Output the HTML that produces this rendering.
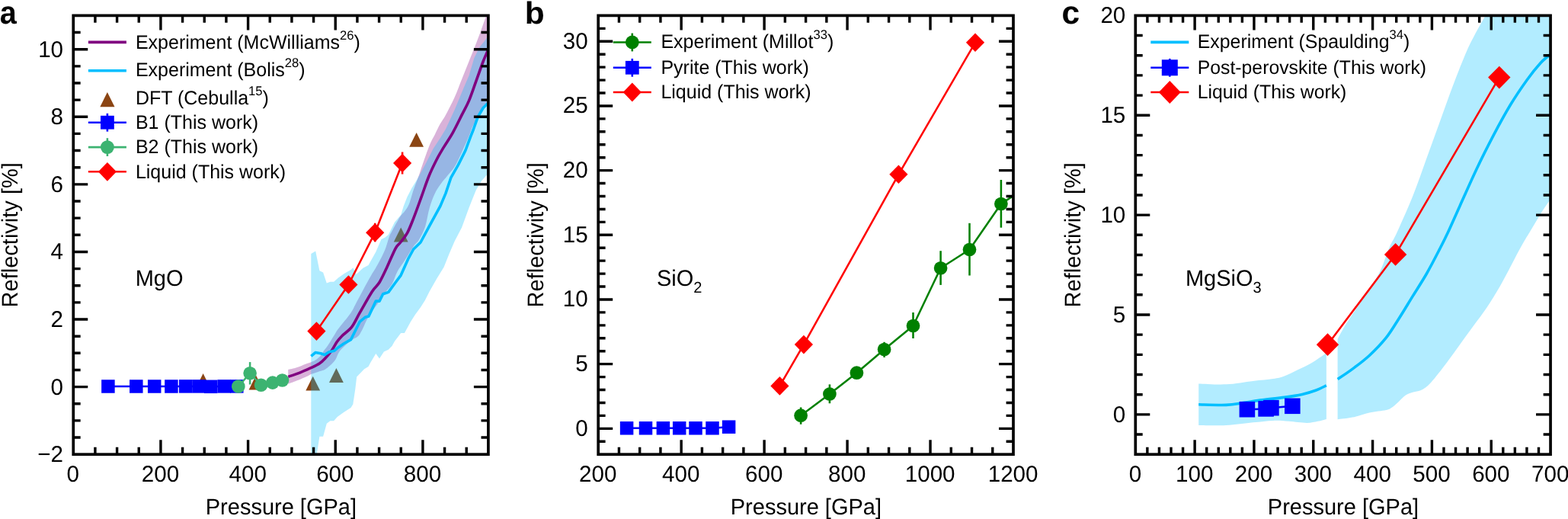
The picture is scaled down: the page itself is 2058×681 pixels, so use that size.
<!DOCTYPE html>
<html lang="en"><head><meta charset="utf-8"><title>Reflectivity vs pressure</title>
<style>
html,body{margin:0;padding:0;background:#fff;}
body{width:2058px;height:681px;overflow:hidden;}
svg{display:block;}
</style></head><body>
<svg width="2058" height="681" viewBox="0 0 2058 681" font-family="'Liberation Sans', sans-serif" font-size="29" fill="#000" text-rendering="geometricPrecision">
<rect width="2058" height="681" fill="#fff"/>
<g>
<clipPath id="clipa"><rect x="96.25" y="20.40" width="544.65" height="575.80"/></clipPath>
<g clip-path="url(#clipa)">
<path d="M378.2 484.9C380.1 484.5 385.4 483.6 389.3 482.3C393.2 481.1 398.4 478.6 401.6 477.4C404.8 476.2 406.2 476.0 408.3 475.2C410.4 474.4 411.8 474.1 413.9 472.6C416.0 471.1 419.1 468.5 421.0 466.4C422.9 464.3 423.7 462.1 425.2 460.0C426.7 457.9 427.6 457.4 429.8 454.1C432.0 450.8 436.2 443.8 438.6 440.0C441.0 436.2 440.4 436.4 444.0 431.5C447.6 426.6 456.6 416.1 460.5 410.4C464.4 404.7 463.6 404.8 467.5 397.5C471.4 390.2 479.2 375.3 483.9 366.9C488.6 358.5 492.2 353.4 495.7 347.0C499.2 340.6 502.6 334.3 505.1 328.2C507.6 322.1 509.3 314.8 510.9 310.6C512.5 306.5 512.1 307.7 514.5 303.3C516.9 298.9 522.3 288.8 525.0 284.5C527.7 280.2 528.9 280.1 530.9 277.4C532.9 274.6 534.8 272.7 536.8 268.0C538.8 263.3 540.6 255.4 542.7 249.2C544.9 242.9 547.8 236.0 549.7 230.5C551.7 225.0 552.0 223.1 554.4 216.4C556.8 209.7 561.1 197.2 563.8 190.5C566.5 183.8 568.4 181.1 570.8 176.4C573.1 171.7 575.5 166.6 577.9 162.3C580.2 158.1 581.8 156.7 584.9 150.9C588.0 145.1 593.2 135.2 596.7 127.4C600.2 119.6 603.0 111.7 606.1 103.9C609.2 96.1 612.4 88.3 615.5 80.5C618.6 72.7 622.2 64.0 624.9 57.0C627.6 50.0 629.8 44.1 631.9 38.2C634.0 32.3 636.3 25.7 637.8 21.7C639.3 17.7 640.3 15.3 640.8 14.0L640.8 135.0C637.8 139.5 626.7 154.7 622.5 162.0C618.3 169.3 618.2 172.5 615.5 178.8C612.8 185.1 609.2 193.2 606.1 199.9C603.0 206.6 599.8 213.6 596.7 218.7C593.6 223.8 590.4 226.6 587.3 230.5C584.2 234.4 580.6 238.3 577.9 242.2C575.1 246.1 573.1 248.8 570.8 253.9C568.4 259.0 565.9 265.3 563.8 272.7C561.6 280.1 560.2 290.9 557.9 298.0C555.5 305.1 552.2 310.8 549.7 315.0C547.2 319.2 545.8 318.9 542.7 323.5C539.6 328.1 534.4 336.8 530.9 342.3C527.4 347.8 524.2 351.3 521.5 356.4C518.8 361.5 517.2 368.1 514.5 372.8C511.8 377.5 508.2 380.2 505.1 384.5C502.0 388.8 499.2 393.5 495.7 398.6C492.2 403.7 487.8 408.4 483.9 415.1C480.0 421.8 475.6 433.6 472.2 438.6C468.8 443.6 466.0 443.3 463.3 445.3C460.6 447.3 459.1 447.9 456.2 450.5C453.2 453.1 448.2 457.6 445.6 461.1C443.0 464.6 442.4 468.6 440.4 471.7C438.3 474.8 435.6 477.4 433.3 479.6C431.0 481.8 428.7 483.6 426.3 484.9C423.9 486.2 422.2 486.2 419.2 487.2C416.2 488.2 410.9 490.0 408.3 491.1C405.7 492.2 406.5 492.3 403.3 493.7C400.1 495.1 393.5 497.9 389.3 499.6C385.1 501.3 380.1 503.1 378.2 503.8Z" fill="#800080" fill-opacity="0.3"/>
<path d="M266.60 490.10L276.00 508.90L257.20 508.90Z" fill="#8B4513"/>
<path d="M336.00 492.60L345.40 511.40L326.60 511.40Z" fill="#8B4513"/>
<path d="M410.70 493.70L420.10 512.50L401.30 512.50Z" fill="#8B4513"/>
<path d="M441.40 483.10L450.80 501.90L432.00 501.90Z" fill="#8B4513"/>
<path d="M526.20 298.60L535.60 317.40L516.80 317.40Z" fill="#8B4513"/>
<path d="M546.60 173.90L556.00 192.70L537.20 192.70Z" fill="#8B4513"/>
<polygon points="408.3,333.0 414.2,329.4 419.4,355.2 424.1,357.5 428.8,371.6 433.4,369.8 438.1,369.8 444.0,364.6 452.2,358.7 460.5,354.0 463.3,351.2 467.6,360.0 476.4,351.7 483.5,348.1 493.3,330.5 500.4,314.1 505.1,311.7 509.8,308.0 518.0,291.5 526.2,282.1 529.7,270.4 534.4,258.6 540.3,246.9 546.2,237.5 550.2,230.5 559.1,214.0 568.5,195.2 577.9,181.1 584.9,169.4 596.7,143.9 608.4,115.7 615.5,99.2 622.5,75.8 629.5,61.7 635.4,54.6 640.8,47.0 640.8,227.5 631.9,237.5 624.9,249.2 615.5,272.7 606.1,298.6 596.7,316.4 589.6,332.9 582.6,350.5 573.2,365.8 563.8,382.2 557.9,393.9 552.0,403.3 545.0,412.7 539.1,422.1 530.9,436.9 526.2,436.9 518.0,447.8 514.5,454.1 509.8,458.8 503.9,461.6 498.0,470.5 493.3,464.0 486.3,475.7 483.5,481.1 478.1,484.2 468.2,494.5 466.3,510.5 463.3,530.4 460.5,535.1 451.1,541.0 442.8,546.9 438.1,552.3 433.4,552.3 428.8,555.8 424.1,572.7 419.4,572.7 415.8,596.0 408.3,620.0" fill="#00BFFF" fill-opacity="0.3"/>
<path d="M378.2 494.3C380.6 493.5 388.0 491.2 392.8 489.3C397.6 487.4 402.5 485.2 406.9 483.2C411.3 481.1 416.0 479.1 419.2 477.0C422.4 474.9 423.6 473.7 426.3 470.8C429.0 467.9 432.9 463.4 435.5 459.7C438.1 456.0 439.9 451.9 442.1 448.8C444.3 445.7 445.4 444.2 448.7 440.9C451.9 437.6 457.7 434.3 461.6 429.2C465.5 424.1 467.7 418.2 472.2 410.4C476.7 402.6 484.3 388.8 488.6 382.2C492.9 375.6 494.9 375.6 498.0 370.5C501.1 365.4 503.9 359.1 507.4 351.7C510.9 344.2 516.2 331.4 519.2 325.8C522.2 320.2 523.0 321.4 525.6 318.0C528.2 314.6 531.8 310.8 534.6 305.6C537.4 300.4 539.5 294.6 542.6 286.8C545.7 279.0 549.6 268.0 553.0 258.6C556.4 249.2 559.8 238.7 563.2 230.5C566.6 222.3 570.0 215.6 573.2 209.3C576.4 203.0 579.1 198.8 582.6 192.9C586.1 187.0 590.4 181.1 594.3 174.1C598.2 167.1 602.6 157.9 606.1 150.9C609.6 143.9 612.4 139.5 615.5 132.1C618.6 124.7 621.8 114.9 624.9 106.3C628.0 97.7 631.6 87.4 634.2 80.5C636.9 73.6 639.7 67.6 640.8 65.0" fill="none" stroke="#800080" stroke-width="3.6"/>
<polyline points="408.3,467.3 413.9,462.6 421.0,463.8 426.3,465.6 431.5,462.0 438.6,460.3 443.9,455.9 451.0,451.0 460.5,445.6 465.2,436.2 472.2,422.1 479.2,416.3 483.9,415.1 493.3,395.1 498.0,395.1 502.7,385.7 509.8,383.4 519.2,370.5 526.2,361.1 535.6,339.9 542.7,327.0 552.0,318.0 563.8,296.2 577.9,270.4 584.9,253.9 592.0,232.8 601.4,216.4 610.8,197.6 617.8,178.8 621.3,170.0 627.2,153.3 634.2,141.5 640.8,135.0" fill="none" stroke="#00BFFF" stroke-width="3.6" stroke-linejoin="round"/>
<polyline points="141.9,507.0 178.8,507.0 202.7,507.0 224.9,507.0 243.7,506.9 261.0,506.9 276.7,507.3 294.2,506.9 310.8,506.9" fill="none" stroke="#0000FF" stroke-width="2.55" stroke-linejoin="round"/>
<rect x="133.15" y="498.25" width="17.50" height="17.50" fill="#0000FF"/>
<rect x="170.05" y="498.25" width="17.50" height="17.50" fill="#0000FF"/>
<rect x="193.95" y="498.25" width="17.50" height="17.50" fill="#0000FF"/>
<rect x="216.15" y="498.25" width="17.50" height="17.50" fill="#0000FF"/>
<rect x="234.95" y="498.15" width="17.50" height="17.50" fill="#0000FF"/>
<rect x="252.25" y="498.15" width="17.50" height="17.50" fill="#0000FF"/>
<rect x="267.95" y="498.55" width="17.50" height="17.50" fill="#0000FF"/>
<rect x="285.45" y="498.15" width="17.50" height="17.50" fill="#0000FF"/>
<rect x="302.05" y="498.15" width="17.50" height="17.50" fill="#0000FF"/>
<polyline points="312.8,507.0 328.1,489.8 342.6,505.2 357.8,502.1 370.5,499.0" fill="none" stroke="#3CB371" stroke-width="2.55" stroke-linejoin="round"/>
<circle cx="312.80" cy="507.00" r="8.80" fill="#3CB371"/>
<path d="M328.10 475.10V504.50" stroke="#3CB371" stroke-width="2.55" fill="none"/>
<circle cx="328.10" cy="489.80" r="8.80" fill="#3CB371"/>
<circle cx="342.60" cy="505.20" r="8.80" fill="#3CB371"/>
<circle cx="357.80" cy="502.10" r="8.80" fill="#3CB371"/>
<circle cx="370.50" cy="499.00" r="8.80" fill="#3CB371"/>
<polyline points="415.4,434.6 457.4,373.5 492.2,305.2 528.1,214.0" fill="none" stroke="#FF0000" stroke-width="2.55" stroke-linejoin="round"/>
<path d="M415.40 422.30L427.50 434.60L415.40 446.90L403.30 434.60Z" fill="#FF0000"/>
<path d="M457.40 361.20L469.50 373.50L457.40 385.80L445.30 373.50Z" fill="#FF0000"/>
<path d="M492.20 292.70V317.30" stroke="#FF0000" stroke-width="2.55" fill="none"/>
<path d="M492.20 292.90L504.30 305.20L492.20 317.50L480.10 305.20Z" fill="#FF0000"/>
<path d="M528.10 199.50V228.60" stroke="#FF0000" stroke-width="2.55" fill="none"/>
<path d="M528.10 201.70L540.20 214.00L528.10 226.30L516.00 214.00Z" fill="#FF0000"/>
</g>
<path d="M124.92 596.20v-9.40M124.92 20.40v9.40M153.58 596.20v-9.40M153.58 20.40v9.40M182.25 596.20v-9.40M182.25 20.40v9.40M210.91 596.20v-19.00M210.91 20.40v19.00M239.58 596.20v-9.40M239.58 20.40v9.40M268.24 596.20v-9.40M268.24 20.40v9.40M296.91 596.20v-9.40M296.91 20.40v9.40M325.58 596.20v-19.00M325.58 20.40v19.00M354.24 596.20v-9.40M354.24 20.40v9.40M382.91 596.20v-9.40M382.91 20.40v9.40M411.57 596.20v-9.40M411.57 20.40v9.40M440.24 596.20v-19.00M440.24 20.40v19.00M468.91 596.20v-9.40M468.91 20.40v9.40M497.57 596.20v-9.40M497.57 20.40v9.40M526.24 596.20v-9.40M526.24 20.40v9.40M554.90 596.20v-19.00M554.90 20.40v19.00M583.57 596.20v-9.40M583.57 20.40v9.40M612.23 596.20v-9.40M612.23 20.40v9.40M96.25 574.05h9.40M640.90 574.05h-9.40M96.25 551.91h9.40M640.90 551.91h-9.40M96.25 529.76h9.40M640.90 529.76h-9.40M96.25 507.62h19.00M640.90 507.62h-19.00M96.25 485.47h9.40M640.90 485.47h-9.40M96.25 463.32h9.40M640.90 463.32h-9.40M96.25 441.18h9.40M640.90 441.18h-9.40M96.25 419.03h19.00M640.90 419.03h-19.00M96.25 396.88h9.40M640.90 396.88h-9.40M96.25 374.74h9.40M640.90 374.74h-9.40M96.25 352.59h9.40M640.90 352.59h-9.40M96.25 330.45h19.00M640.90 330.45h-19.00M96.25 308.30h9.40M640.90 308.30h-9.40M96.25 286.15h9.40M640.90 286.15h-9.40M96.25 264.01h9.40M640.90 264.01h-9.40M96.25 241.86h19.00M640.90 241.86h-19.00M96.25 219.72h9.40M640.90 219.72h-9.40M96.25 197.57h9.40M640.90 197.57h-9.40M96.25 175.42h9.40M640.90 175.42h-9.40M96.25 153.28h19.00M640.90 153.28h-19.00M96.25 131.13h9.40M640.90 131.13h-9.40M96.25 108.98h9.40M640.90 108.98h-9.40M96.25 86.84h9.40M640.90 86.84h-9.40M96.25 64.69h19.00M640.90 64.69h-19.00M96.25 42.55h9.40M640.90 42.55h-9.40" stroke="#000" stroke-width="3.4" fill="none"/>
<rect x="96.25" y="20.40" width="544.65" height="575.80" fill="none" stroke="#000" stroke-width="3.7"/>
<text transform="translate(95.85 631.7) scale(1 1.015)" font-size="29.6" text-anchor="middle">0</text>
<text transform="translate(210.51 631.7) scale(1 1.015)" font-size="29.6" text-anchor="middle">200</text>
<text transform="translate(325.18 631.7) scale(1 1.015)" font-size="29.6" text-anchor="middle">400</text>
<text transform="translate(439.84 631.7) scale(1 1.015)" font-size="29.6" text-anchor="middle">600</text>
<text transform="translate(554.50 631.7) scale(1 1.015)" font-size="29.6" text-anchor="middle">800</text>
<text transform="translate(83.05 606.20) scale(1 1.015)" font-size="29.6" text-anchor="end">−2</text>
<text transform="translate(83.05 517.62) scale(1 1.015)" font-size="29.6" text-anchor="end">0</text>
<text transform="translate(83.05 429.03) scale(1 1.015)" font-size="29.6" text-anchor="end">2</text>
<text transform="translate(83.05 340.45) scale(1 1.015)" font-size="29.6" text-anchor="end">4</text>
<text transform="translate(83.05 251.86) scale(1 1.015)" font-size="29.6" text-anchor="end">6</text>
<text transform="translate(83.05 163.28) scale(1 1.015)" font-size="29.6" text-anchor="end">8</text>
<text transform="translate(83.05 74.69) scale(1 1.015)" font-size="29.6" text-anchor="end">10</text>
<text transform="translate(368.88 674.9) scale(1 1.02)" text-anchor="middle">Pressure [GPa]</text>
<text transform="translate(23.45 308.30) rotate(-90) scale(1 1.02)" text-anchor="middle">Reflectivity [%]</text>
<text transform="translate(-0.3 30.8) scale(0.93 1.0)" font-weight="bold" font-size="42.5">a</text>
<path d="M115.90 55.40H165.90" stroke="#800080" stroke-width="3.6"/>
<text transform="translate(177.90 63.90) scale(1 1.02)" font-size="25">Experiment (McWilliams<tspan dy="-11.8" font-size="16.6">26</tspan><tspan dy="11.8">)</tspan></text>
<path d="M115.90 92.70H165.90" stroke="#00BFFF" stroke-width="3.6"/>
<text transform="translate(177.90 99.80) scale(1 1.02)" font-size="25">Experiment (Bolis<tspan dy="-11.8" font-size="16.6">28</tspan><tspan dy="11.8">)</tspan></text>
<path d="M140.90 121.10L150.50 140.30L131.30 140.30Z" fill="#8B4513"/>
<text transform="translate(177.90 136.60) scale(1 1.02)" font-size="25">DFT (Cebulla<tspan dy="-11.8" font-size="16.6">15</tspan><tspan dy="11.8">)</tspan></text>
<path d="M115.90 160.70H165.90" stroke="#0000FF" stroke-width="2.55"/>
<path d="M140.90 148.80V172.60" stroke="#0000FF" stroke-width="2.55" fill="none"/>
<rect x="132.00" y="151.80" width="17.80" height="17.80" fill="#0000FF"/>
<text transform="translate(177.90 168.80) scale(1 1.02)" font-size="25">B1 (This work)</text>
<path d="M115.90 193.10H165.90" stroke="#3CB371" stroke-width="2.55"/>
<path d="M140.90 181.20V205.00" stroke="#3CB371" stroke-width="2.55" fill="none"/>
<circle cx="140.90" cy="193.10" r="8.90" fill="#3CB371"/>
<text transform="translate(177.90 201.10) scale(1 1.02)" font-size="25">B2 (This work)</text>
<path d="M115.90 225.30H165.90" stroke="#FF0000" stroke-width="2.55"/>
<path d="M140.90 212.90L152.90 225.30L140.90 237.70L128.90 225.30Z" fill="#FF0000"/>
<text transform="translate(177.90 233.80) scale(1 1.02)" font-size="25">Liquid (This work)</text>
<text transform="translate(177.7 375) scale(1 1.02)">MgO</text>
</g>
<g>
<clipPath id="clipb"><rect x="785.20" y="20.40" width="544.80" height="575.80"/></clipPath>
<g clip-path="url(#clipb)">
<polyline points="822.6,561.8 847.5,561.8 870.4,561.8 891.7,561.8 913.0,561.8 935.0,561.8 956.6,560.2" fill="none" stroke="#0000FF" stroke-width="2.55" stroke-linejoin="round"/>
<rect x="813.85" y="553.05" width="17.50" height="17.50" fill="#0000FF"/>
<rect x="838.75" y="553.05" width="17.50" height="17.50" fill="#0000FF"/>
<rect x="861.65" y="553.05" width="17.50" height="17.50" fill="#0000FF"/>
<rect x="882.95" y="553.05" width="17.50" height="17.50" fill="#0000FF"/>
<rect x="904.25" y="553.05" width="17.50" height="17.50" fill="#0000FF"/>
<rect x="926.25" y="553.05" width="17.50" height="17.50" fill="#0000FF"/>
<rect x="947.85" y="551.45" width="17.50" height="17.50" fill="#0000FF"/>
<polyline points="1051.1,545.2 1088.9,517.0 1124.4,489.2 1160.6,458.5 1198.5,427.5 1234.6,351.8 1272.5,327.5 1313.9,267.5 1345.0,247.0" fill="none" stroke="#008000" stroke-width="2.55" stroke-linejoin="round"/>
<path d="M1051.10 534.50V556.80" stroke="#008000" stroke-width="2.55" fill="none"/>
<circle cx="1051.10" cy="545.20" r="8.85" fill="#008000"/>
<path d="M1088.90 504.40V529.30" stroke="#008000" stroke-width="2.55" fill="none"/>
<circle cx="1088.90" cy="517.00" r="8.85" fill="#008000"/>
<circle cx="1124.40" cy="489.20" r="8.85" fill="#008000"/>
<path d="M1160.60 448.80V468.90" stroke="#008000" stroke-width="2.55" fill="none"/>
<circle cx="1160.60" cy="458.50" r="8.85" fill="#008000"/>
<path d="M1198.50 410.00V444.00" stroke="#008000" stroke-width="2.55" fill="none"/>
<circle cx="1198.50" cy="427.50" r="8.85" fill="#008000"/>
<path d="M1234.60 329.20V373.90" stroke="#008000" stroke-width="2.55" fill="none"/>
<circle cx="1234.60" cy="351.80" r="8.85" fill="#008000"/>
<path d="M1272.50 292.80V361.50" stroke="#008000" stroke-width="2.55" fill="none"/>
<circle cx="1272.50" cy="327.50" r="8.85" fill="#008000"/>
<path d="M1313.90 236.10V298.70" stroke="#008000" stroke-width="2.55" fill="none"/>
<circle cx="1313.90" cy="267.50" r="8.85" fill="#008000"/>
<polyline points="1023.4,506.4 1054.9,452.1 1179.4,228.8 1280.0,55.8" fill="none" stroke="#FF0000" stroke-width="2.55" stroke-linejoin="round"/>
<path d="M1023.40 494.10L1035.50 506.40L1023.40 518.70L1011.30 506.40Z" fill="#FF0000"/>
<path d="M1054.90 439.80L1067.00 452.10L1054.90 464.40L1042.80 452.10Z" fill="#FF0000"/>
<path d="M1179.40 216.50L1191.50 228.80L1179.40 241.10L1167.30 228.80Z" fill="#FF0000"/>
<path d="M1280.00 43.50L1292.10 55.80L1280.00 68.10L1267.90 55.80Z" fill="#FF0000"/>
</g>
<path d="M812.44 596.20v-9.40M812.44 20.40v9.40M839.68 596.20v-9.40M839.68 20.40v9.40M866.92 596.20v-9.40M866.92 20.40v9.40M894.16 596.20v-19.00M894.16 20.40v19.00M921.40 596.20v-9.40M921.40 20.40v9.40M948.64 596.20v-9.40M948.64 20.40v9.40M975.88 596.20v-9.40M975.88 20.40v9.40M1003.12 596.20v-19.00M1003.12 20.40v19.00M1030.36 596.20v-9.40M1030.36 20.40v9.40M1057.60 596.20v-9.40M1057.60 20.40v9.40M1084.84 596.20v-9.40M1084.84 20.40v9.40M1112.08 596.20v-19.00M1112.08 20.40v19.00M1139.32 596.20v-9.40M1139.32 20.40v9.40M1166.56 596.20v-9.40M1166.56 20.40v9.40M1193.80 596.20v-9.40M1193.80 20.40v9.40M1221.04 596.20v-19.00M1221.04 20.40v19.00M1248.28 596.20v-9.40M1248.28 20.40v9.40M1275.52 596.20v-9.40M1275.52 20.40v9.40M1302.76 596.20v-9.40M1302.76 20.40v9.40M785.20 579.26h9.40M1330.00 579.26h-9.40M785.20 562.33h19.00M1330.00 562.33h-19.00M785.20 545.39h9.40M1330.00 545.39h-9.40M785.20 528.46h9.40M1330.00 528.46h-9.40M785.20 511.52h9.40M1330.00 511.52h-9.40M785.20 494.59h9.40M1330.00 494.59h-9.40M785.20 477.65h19.00M1330.00 477.65h-19.00M785.20 460.72h9.40M1330.00 460.72h-9.40M785.20 443.78h9.40M1330.00 443.78h-9.40M785.20 426.85h9.40M1330.00 426.85h-9.40M785.20 409.91h9.40M1330.00 409.91h-9.40M785.20 392.98h19.00M1330.00 392.98h-19.00M785.20 376.04h9.40M1330.00 376.04h-9.40M785.20 359.11h9.40M1330.00 359.11h-9.40M785.20 342.17h9.40M1330.00 342.17h-9.40M785.20 325.24h9.40M1330.00 325.24h-9.40M785.20 308.30h19.00M1330.00 308.30h-19.00M785.20 291.36h9.40M1330.00 291.36h-9.40M785.20 274.43h9.40M1330.00 274.43h-9.40M785.20 257.49h9.40M1330.00 257.49h-9.40M785.20 240.56h9.40M1330.00 240.56h-9.40M785.20 223.62h19.00M1330.00 223.62h-19.00M785.20 206.69h9.40M1330.00 206.69h-9.40M785.20 189.75h9.40M1330.00 189.75h-9.40M785.20 172.82h9.40M1330.00 172.82h-9.40M785.20 155.88h9.40M1330.00 155.88h-9.40M785.20 138.95h19.00M1330.00 138.95h-19.00M785.20 122.01h9.40M1330.00 122.01h-9.40M785.20 105.08h9.40M1330.00 105.08h-9.40M785.20 88.14h9.40M1330.00 88.14h-9.40M785.20 71.21h9.40M1330.00 71.21h-9.40M785.20 54.27h19.00M1330.00 54.27h-19.00M785.20 37.34h9.40M1330.00 37.34h-9.40" stroke="#000" stroke-width="3.4" fill="none"/>
<rect x="785.20" y="20.40" width="544.80" height="575.80" fill="none" stroke="#000" stroke-width="3.7"/>
<text transform="translate(784.80 631.7) scale(1 1.015)" font-size="29.6" text-anchor="middle">200</text>
<text transform="translate(893.76 631.7) scale(1 1.015)" font-size="29.6" text-anchor="middle">400</text>
<text transform="translate(1002.72 631.7) scale(1 1.015)" font-size="29.6" text-anchor="middle">600</text>
<text transform="translate(1111.68 631.7) scale(1 1.015)" font-size="29.6" text-anchor="middle">800</text>
<text transform="translate(1220.64 631.7) scale(1 1.015)" font-size="29.6" text-anchor="middle">1000</text>
<text transform="translate(1329.60 631.7) scale(1 1.015)" font-size="29.6" text-anchor="middle">1200</text>
<text transform="translate(771.70 571.73) scale(1 1.015)" font-size="29.6" text-anchor="end">0</text>
<text transform="translate(771.70 487.05) scale(1 1.015)" font-size="29.6" text-anchor="end">5</text>
<text transform="translate(771.70 402.38) scale(1 1.015)" font-size="29.6" text-anchor="end">10</text>
<text transform="translate(771.70 317.70) scale(1 1.015)" font-size="29.6" text-anchor="end">15</text>
<text transform="translate(771.70 233.02) scale(1 1.015)" font-size="29.6" text-anchor="end">20</text>
<text transform="translate(771.70 148.35) scale(1 1.015)" font-size="29.6" text-anchor="end">25</text>
<text transform="translate(771.70 63.67) scale(1 1.015)" font-size="29.6" text-anchor="end">30</text>
<text transform="translate(1057.90 674.9) scale(1 1.02)" text-anchor="middle">Pressure [GPa]</text>
<text transform="translate(713.00 308.30) rotate(-90) scale(1 1.02)" text-anchor="middle">Reflectivity [%]</text>
<text transform="translate(688.7 30.8) scale(1.0 0.96)" font-weight="bold" font-size="42.5">b</text>
<path d="M804.80 55.50H854.80" stroke="#008000" stroke-width="2.55"/>
<path d="M829.80 43.60V67.40" stroke="#008000" stroke-width="2.55" fill="none"/>
<circle cx="829.80" cy="55.50" r="8.90" fill="#008000"/>
<text transform="translate(867.40 63.00) scale(1 1.02)" font-size="25">Experiment (Millot<tspan dy="-11.8" font-size="16.6">33</tspan><tspan dy="11.8">)</tspan></text>
<path d="M804.80 88.80H854.80" stroke="#0000FF" stroke-width="2.55"/>
<path d="M829.80 76.90V100.70" stroke="#0000FF" stroke-width="2.55" fill="none"/>
<rect x="820.90" y="79.90" width="17.80" height="17.80" fill="#0000FF"/>
<text transform="translate(867.40 97.40) scale(1 1.02)" font-size="25">Pyrite (This work)</text>
<path d="M804.80 121.00H854.80" stroke="#FF0000" stroke-width="2.55"/>
<path d="M829.80 108.60L841.80 121.00L829.80 133.40L817.80 121.00Z" fill="#FF0000"/>
<text transform="translate(867.40 129.00) scale(1 1.02)" font-size="25">Liquid (This work)</text>
<text transform="translate(862 375) scale(1 1.02)">SiO<tspan dy="8.4" font-size="20">2</tspan></text>
</g>
<g>
<clipPath id="clipc"><rect x="1490.30" y="20.40" width="544.75" height="575.80"/></clipPath>
<g clip-path="url(#clipc)">
<path d="M1573.2 503.4C1579.2 503.5 1597.4 504.9 1609.3 504.3C1621.2 503.7 1634.3 501.1 1644.6 499.9C1654.9 498.7 1664.2 498.1 1671.0 497.0C1677.8 495.9 1680.3 495.4 1685.7 493.4C1691.1 491.4 1697.4 488.0 1703.3 485.2C1709.2 482.4 1714.7 480.1 1721.0 476.4C1727.3 472.7 1737.6 465.4 1740.9 463.2L1740.9 549.9C1739.1 550.4 1734.1 552.0 1729.8 552.8C1725.5 553.6 1721.5 554.9 1715.1 554.9C1708.7 554.9 1698.9 553.3 1691.6 552.8C1684.2 552.3 1678.8 551.6 1671.0 551.9C1663.2 552.1 1654.9 553.3 1644.6 554.3C1634.3 555.3 1621.2 557.5 1609.3 558.1C1597.4 558.7 1579.2 558.1 1573.2 558.1Z" fill="#00BFFF" fill-opacity="0.3"/>
<path d="M1755.6 445.0C1757.4 441.8 1761.7 433.2 1766.4 425.6C1771.2 418.0 1778.2 407.9 1784.1 399.1C1790.0 390.3 1796.9 380.4 1801.7 372.7C1806.5 365.0 1809.0 361.0 1812.7 352.9C1816.4 344.8 1820.2 332.2 1823.7 324.2C1827.2 316.2 1828.4 316.2 1833.5 305.0C1838.6 293.8 1848.0 272.8 1854.5 256.7C1861.0 240.6 1866.3 224.3 1872.2 208.2C1878.1 192.0 1883.9 176.0 1889.8 159.8C1895.7 143.7 1901.5 126.7 1907.4 111.3C1913.3 95.9 1919.9 79.0 1925.0 67.3C1930.1 55.5 1934.2 48.5 1938.2 40.8C1942.2 33.1 1946.5 26.1 1949.3 21.0C1952.1 15.9 1940.7 11.8 1955.0 10.0C1969.3 8.2 2021.8 10.0 2035.2 10.0L2035.2 261.1C2033.0 264.4 2026.5 273.6 2021.9 280.9C2017.3 288.2 2011.2 298.9 2007.5 305.0C2003.8 311.1 2003.4 311.5 1999.9 317.6C1996.4 323.8 1991.8 332.3 1986.7 341.9C1981.6 351.4 1975.0 364.6 1969.1 374.9C1963.2 385.2 1957.4 394.7 1951.5 403.5C1945.6 412.3 1939.7 419.7 1933.8 427.8C1927.9 435.9 1922.1 443.9 1916.2 452.0C1910.3 460.1 1904.0 469.0 1898.6 476.2C1893.2 483.4 1887.7 490.4 1883.6 495.4C1879.5 500.3 1877.3 503.1 1874.1 505.9C1870.9 508.7 1867.7 510.8 1864.5 512.2C1861.3 513.6 1858.2 513.4 1855.0 514.4C1851.8 515.4 1848.6 516.2 1845.4 518.3C1842.2 520.4 1839.1 524.1 1835.9 526.9C1832.7 529.7 1829.2 533.1 1826.4 534.9C1823.6 536.7 1824.2 536.8 1819.3 537.9C1814.4 539.0 1804.6 539.8 1797.3 541.4C1790.0 543.0 1782.2 546.1 1775.2 547.6C1768.2 549.1 1758.9 549.8 1755.6 550.3Z" fill="#00BFFF" fill-opacity="0.3"/>
<path d="M1573.2 530.8C1579.2 530.9 1599.4 531.8 1609.3 531.4C1619.2 531.0 1625.0 529.5 1632.8 528.4C1640.6 527.3 1647.5 526.1 1656.3 524.9C1665.1 523.7 1676.9 522.6 1685.7 521.4C1694.5 520.2 1702.4 519.0 1709.2 517.5C1716.0 516.0 1721.5 514.2 1726.8 512.3C1732.1 510.3 1738.6 506.9 1740.9 505.8" fill="none" stroke="#00BFFF" stroke-width="3.6"/>
<path d="M1755.6 497.5C1758.9 495.3 1768.2 489.3 1775.2 484.1C1782.2 478.9 1790.0 473.3 1797.3 466.5C1804.6 459.7 1812.7 451.5 1819.3 443.2C1825.9 434.9 1831.0 425.9 1836.9 416.7C1842.8 407.5 1848.6 397.6 1854.5 388.1C1860.4 378.6 1866.3 369.8 1872.2 359.5C1878.1 349.2 1885.1 335.5 1889.8 326.4C1894.5 317.3 1896.0 314.4 1900.4 305.0C1904.8 295.6 1909.9 283.8 1916.2 269.9C1922.5 256.0 1930.9 236.9 1938.2 221.5C1945.5 206.1 1953.0 191.3 1960.3 177.4C1967.6 163.5 1975.0 149.9 1982.3 137.8C1989.6 125.7 1997.7 113.9 2004.3 104.7C2010.9 95.5 2016.8 88.3 2021.9 82.7C2027.1 77.1 2033.0 73.0 2035.2 71.0" fill="none" stroke="#00BFFF" stroke-width="3.6"/>
<polyline points="1636.9,537.2 1661.6,536.4 1668.4,535.2 1696.3,532.8" fill="none" stroke="#0000FF" stroke-width="2.55" stroke-linejoin="round"/>
<rect x="1626.60" y="526.90" width="20.60" height="20.60" fill="#0000FF"/>
<rect x="1651.30" y="526.10" width="20.60" height="20.60" fill="#0000FF"/>
<rect x="1658.10" y="524.90" width="20.60" height="20.60" fill="#0000FF"/>
<rect x="1686.00" y="522.50" width="20.60" height="20.60" fill="#0000FF"/>
<polyline points="1742.5,452.2 1831.6,333.9 1967.8,101.6" fill="none" stroke="#FF0000" stroke-width="2.55" stroke-linejoin="round"/>
<path d="M1742.50 437.30L1757.20 452.20L1742.50 467.10L1727.80 452.20Z" fill="#FF0000"/>
<path d="M1831.60 319.00L1846.30 333.90L1831.60 348.80L1816.90 333.90Z" fill="#FF0000"/>
<path d="M1967.80 86.70L1982.50 101.60L1967.80 116.50L1953.10 101.60Z" fill="#FF0000"/>
</g>
<path d="M1505.86 596.20v-9.40M1505.86 20.40v9.40M1521.43 596.20v-9.40M1521.43 20.40v9.40M1536.99 596.20v-9.40M1536.99 20.40v9.40M1552.56 596.20v-9.40M1552.56 20.40v9.40M1568.12 596.20v-19.00M1568.12 20.40v19.00M1583.69 596.20v-9.40M1583.69 20.40v9.40M1599.25 596.20v-9.40M1599.25 20.40v9.40M1614.81 596.20v-9.40M1614.81 20.40v9.40M1630.38 596.20v-9.40M1630.38 20.40v9.40M1645.94 596.20v-19.00M1645.94 20.40v19.00M1661.51 596.20v-9.40M1661.51 20.40v9.40M1677.07 596.20v-9.40M1677.07 20.40v9.40M1692.64 596.20v-9.40M1692.64 20.40v9.40M1708.20 596.20v-9.40M1708.20 20.40v9.40M1723.76 596.20v-19.00M1723.76 20.40v19.00M1739.33 596.20v-9.40M1739.33 20.40v9.40M1754.89 596.20v-9.40M1754.89 20.40v9.40M1770.46 596.20v-9.40M1770.46 20.40v9.40M1786.02 596.20v-9.40M1786.02 20.40v9.40M1801.59 596.20v-19.00M1801.59 20.40v19.00M1817.15 596.20v-9.40M1817.15 20.40v9.40M1832.71 596.20v-9.40M1832.71 20.40v9.40M1848.28 596.20v-9.40M1848.28 20.40v9.40M1863.84 596.20v-9.40M1863.84 20.40v9.40M1879.41 596.20v-19.00M1879.41 20.40v19.00M1894.97 596.20v-9.40M1894.97 20.40v9.40M1910.54 596.20v-9.40M1910.54 20.40v9.40M1926.10 596.20v-9.40M1926.10 20.40v9.40M1941.66 596.20v-9.40M1941.66 20.40v9.40M1957.23 596.20v-19.00M1957.23 20.40v19.00M1972.79 596.20v-9.40M1972.79 20.40v9.40M1988.36 596.20v-9.40M1988.36 20.40v9.40M2003.92 596.20v-9.40M2003.92 20.40v9.40M2019.49 596.20v-9.40M2019.49 20.40v9.40M1490.30 570.03h9.40M2035.05 570.03h-9.40M1490.30 543.85h19.00M2035.05 543.85h-19.00M1490.30 517.68h9.40M2035.05 517.68h-9.40M1490.30 491.51h9.40M2035.05 491.51h-9.40M1490.30 465.34h9.40M2035.05 465.34h-9.40M1490.30 439.16h9.40M2035.05 439.16h-9.40M1490.30 412.99h19.00M2035.05 412.99h-19.00M1490.30 386.82h9.40M2035.05 386.82h-9.40M1490.30 360.65h9.40M2035.05 360.65h-9.40M1490.30 334.47h9.40M2035.05 334.47h-9.40M1490.30 308.30h9.40M2035.05 308.30h-9.40M1490.30 282.13h19.00M2035.05 282.13h-19.00M1490.30 255.95h9.40M2035.05 255.95h-9.40M1490.30 229.78h9.40M2035.05 229.78h-9.40M1490.30 203.61h9.40M2035.05 203.61h-9.40M1490.30 177.44h9.40M2035.05 177.44h-9.40M1490.30 151.26h19.00M2035.05 151.26h-19.00M1490.30 125.09h9.40M2035.05 125.09h-9.40M1490.30 98.92h9.40M2035.05 98.92h-9.40M1490.30 72.75h9.40M2035.05 72.75h-9.40M1490.30 46.57h9.40M2035.05 46.57h-9.40" stroke="#000" stroke-width="3.4" fill="none"/>
<rect x="1490.30" y="20.40" width="544.75" height="575.80" fill="none" stroke="#000" stroke-width="3.7"/>
<text transform="translate(1489.90 631.7) scale(1 1.015)" font-size="29.6" text-anchor="middle">0</text>
<text transform="translate(1567.72 631.7) scale(1 1.015)" font-size="29.6" text-anchor="middle">100</text>
<text transform="translate(1645.54 631.7) scale(1 1.015)" font-size="29.6" text-anchor="middle">200</text>
<text transform="translate(1723.36 631.7) scale(1 1.015)" font-size="29.6" text-anchor="middle">300</text>
<text transform="translate(1801.19 631.7) scale(1 1.015)" font-size="29.6" text-anchor="middle">400</text>
<text transform="translate(1879.01 631.7) scale(1 1.015)" font-size="29.6" text-anchor="middle">500</text>
<text transform="translate(1956.83 631.7) scale(1 1.015)" font-size="29.6" text-anchor="middle">600</text>
<text transform="translate(2034.65 631.7) scale(1 1.015)" font-size="29.6" text-anchor="middle">700</text>
<text transform="translate(1477.30 553.65) scale(1 1.015)" font-size="29.6" text-anchor="end">0</text>
<text transform="translate(1477.30 422.79) scale(1 1.015)" font-size="29.6" text-anchor="end">5</text>
<text transform="translate(1477.30 291.93) scale(1 1.015)" font-size="29.6" text-anchor="end">10</text>
<text transform="translate(1477.30 161.06) scale(1 1.015)" font-size="29.6" text-anchor="end">15</text>
<text transform="translate(1477.30 30.20) scale(1 1.015)" font-size="29.6" text-anchor="end">20</text>
<text transform="translate(1762.97 674.9) scale(1 1.02)" text-anchor="middle">Pressure [GPa]</text>
<text transform="translate(1417.80 308.30) rotate(-90) scale(1 1.02)" text-anchor="middle">Reflectivity [%]</text>
<text transform="translate(1393.4 31.3) scale(1.0 1.0)" font-weight="bold" font-size="42.5">c</text>
<path d="M1510.30 55.40H1560.30" stroke="#00BFFF" stroke-width="3.6"/>
<text transform="translate(1571.70 63.10) scale(1 1.02)" font-size="24.9">Experiment (Spaulding<tspan dy="-11.8" font-size="16.6">34</tspan><tspan dy="11.8">)</tspan></text>
<path d="M1510.30 88.80H1560.30" stroke="#0000FF" stroke-width="2.55"/>
<path d="M1535.30 76.90V100.70" stroke="#0000FF" stroke-width="2.55" fill="none"/>
<rect x="1524.80" y="78.30" width="21.00" height="21.00" fill="#0000FF"/>
<text transform="translate(1571.70 97.20) scale(1 1.02)" font-size="24.8">Post-perovskite (This work)</text>
<path d="M1510.30 121.00H1560.30" stroke="#FF0000" stroke-width="2.55"/>
<path d="M1535.30 106.12L1549.70 121.00L1535.30 135.88L1520.90 121.00Z" fill="#FF0000"/>
<text transform="translate(1571.70 129.20) scale(1 1.02)" font-size="24.8">Liquid (This work)</text>
<text transform="translate(1555.9 375) scale(1 1.02)">MgSiO<tspan dy="8.4" font-size="20">3</tspan></text>
</g>
</svg>
</body></html>
